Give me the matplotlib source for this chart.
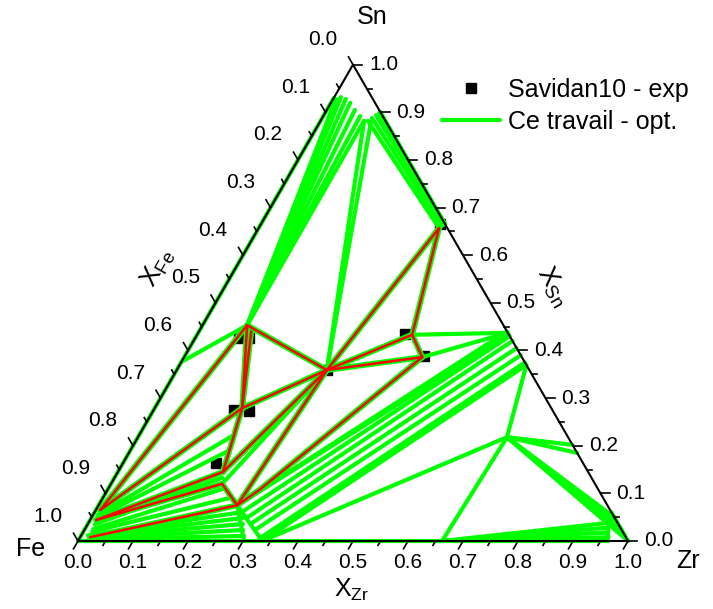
import numpy as np
import matplotlib.pyplot as plt

plt.rcParams['font.family'] = ['Liberation Sans', 'DejaVu Sans']
plt.rcParams['mathtext.fontset'] = 'custom'
plt.rcParams['mathtext.rm'] = 'Liberation Sans'

# compositions are (x_Zr, x_Sn)
P1 = (0.081, 0.453)
P1b = (0.095, 0.440)
P3 = (0.273, 0.359)
P4 = (0.328, 0.657)
P5 = (0.391, 0.433)
P6 = (0.433, 0.386)
P7 = (0.159, 0.279)
P8 = (0.191, 0.145)
P9 = (0.202, 0.120)
N1 = (0.252, 0.075)
N2 = (0.276, 0.107)
Fa = (0.008, 0.065)
Fb = (0.011, 0.044)
Fc = (0.018, 0.008)
Q1 = (0.671, 0.218)
B1 = (0.302, 0.0)
B2 = (0.335, 0.0)
B3 = (0.662, 0.0)
Z1 = (0.945, 0.038)
Z2 = (0.964, 0.0)
R1 = (0.563, 0.437)
R2 = (0.6305, 0.3695)
Lleft = (0.0, 0.376)

# liquid (Sn corner) ends of the tie-lines
liq_to_P1 = [(0.005, 0.928), (0.012, 0.932), (0.023, 0.928), (0.035, 0.920),
             (0.051, 0.905), (0.067, 0.892), (0.079, 0.882)]
liq_to_P3 = [(0.079, 0.882), (0.092, 0.882)]
liq_to_P4 = [(0.086, 0.882), (0.0905, 0.888), (0.0948, 0.894), (0.098, 0.899)]
P4_ends = [(0.328, 0.657), (0.331, 0.661), (0.333, 0.664), (0.335, 0.665)]

# Fe corner -> Laves boundary
fe_left = [(0.020, 0.004), (0.018, 0.006), (0.016, 0.008), (0.014, 0.010), (0.012, 0.012)]
fe_right = [(0.2966, 0.0105), (0.2885, 0.0231), (0.282, 0.0357), (0.2759, 0.0483), (0.2695, 0.061)]

# Laves boundary -> Zr5Sn3 side
lav_left = [(0.271, 0.065), (0.284, 0.0504), (0.2975, 0.0378), (0.310, 0.0231), (0.328, 0.0063)]
lav_edge_sn = [0.43, 0.42, 0.405, 0.39, 0.375]
n1_edge_sn = [0.44, 0.437, 0.433]

# Q1 fan towards the Zr corner
q1_zr_edge = [(0.945, 0.038), (0.95, 0.05), (0.963, 0.037), (0.976, 0.024), (0.988, 0.012), (1.0, 0.0)]
b3_ends = [(0.945, 0.038), (0.95, 0.028), (0.955, 0.018), (0.96, 0.008)]

# green bands near the Fe corner
fe_band = [((0.009, 0.055), (0.170, 0.220)), ((0.010, 0.050), (0.180, 0.190)),
           ((0.013, 0.035), (0.196, 0.133)), ((0.015, 0.025), (0.210, 0.110)),
           ((0.016, 0.020), (0.230, 0.090))]

red_lines = [(P4, P3), (P4, P5), (P5, P3), (P5, P6), (P6, P3), (P1, P3), (P1, P7),
             (P1b, P7), (P7, P3), (Fa, P1), (Fa, P7), (Fb, P8), (P7, P8), (P3, P8),
             (Fb, P9), (P9, N1), (Fc, N1), (P3, N1), (P6, N2), (N1, N2)]

green_lines = ([(P1, p) for p in liq_to_P1] + [(p, P3) for p in liq_to_P3]
               + list(zip(liq_to_P4, P4_ends))
               + [(P1, Lleft), (P3, P9), (P5, R1), (P6, R1), (N1, B1), (N1, B2)]
               + list(zip(fe_left, fe_right))
               + [(a, (1 - s, s)) for a, s in zip(lav_left, lav_edge_sn)]
               + [(N1, (1 - s, s)) for s in n1_edge_sn]
               + [(Q1, R2), (Q1, B3), (Q1, B2), (Q1, (0.798, 0.202)), (Q1, (0.815, 0.185)), (B2, R2)]
               + [(Q1, p) for p in q1_zr_edge]
               + [(B3, p) for p in b3_ends] + [(Z1, Z2)]
               + fe_band
               + [((0, 0), (0, 0.93)), ((0.099, 0.901), (0.335, 0.665)),
                  ((0.94, 0.06), (1, 0)), ((0, 0), (0.964, 0))])

# experimental points (Savidan10)
exp_zr = [0.325, 0.080, 0.098, 0.146, 0.1745, 0.273, 0.377, 0.435, 0.169]
exp_sn = [0.6655, 0.426, 0.426, 0.275, 0.273, 0.359, 0.4346, 0.3884, 0.1638]

H = np.sqrt(3) / 2


def tern(zr, sn):
    zr = np.asarray(zr, float)
    sn = np.asarray(sn, float)
    return zr + 0.5 * sn, sn * H


def px(x, y):
    # figure pixel -> data coords (Fe at 78,541 ; side = 550 px)
    return (x - 78) / 550, (541 - y) / 550


fig = plt.figure(figsize=(7.13, 6.09), dpi=100)
ax = fig.add_axes([0, 0, 1, 1])
ax.set_xlim(-78 / 550, 635 / 550)
ax.set_ylim(-68 / 550, 541 / 550)
ax.axis('off')

GREEN = '#00ff00'
RED = '#ff0000'

xs, ys = tern(exp_zr, exp_sn)
hexp, = ax.plot(xs, ys, 's', color='black', ms=7, ls='none', zorder=1, label='Savidan10 - exp')

for k, (a, b) in enumerate(green_lines):
    x, y = tern([a[0], b[0]], [a[1], b[1]])
    h, = ax.plot(x, y, color=GREEN, lw=3, solid_capstyle='round', zorder=2)
    if k == 0:
        hopt = h
hopt.set_label('Ce travail - opt.')

for a, b in red_lines:
    x, y = tern([a[0], b[0]], [a[1], b[1]])
    ax.plot(x, y, color=GREEN, lw=4.2, solid_capstyle='round', zorder=3)
for a, b in red_lines:
    x, y = tern([a[0], b[0]], [a[1], b[1]])
    ax.plot(x, y, color=RED, lw=1.8, solid_capstyle='round', zorder=4)

# triangle frame
tx, ty = tern([0, 1, 0, 0], [0, 0, 1, 0])
ax.plot(tx, ty, color='black', lw=1.5, zorder=5)

u = 1 / 550
for i in range(21):
    t = i / 20
    major = i % 2 == 0
    L = (9 if major else 5) * u
    # bottom (X_Zr)
    bx, by = t, 0
    ax.plot([bx, bx - 0.5 * L], [by, by - H * L], color='black', lw=1.2, zorder=5)
    # right (X_Sn)
    rx, ry = 1 - t / 2, t * H
    ax.plot([rx, rx + L], [ry, ry], color='black', lw=1.2, zorder=5)
    # left (X_Fe)
    lx, ly = 0.5 * (1 - t), H * (1 - t)
    ax.plot([lx, lx - 0.5 * L], [ly, ly + H * L], color='black', lw=1.2, zorder=5)
    if major:
        lab = f'{t:.1f}'
        ax.text(bx, by - 21 * u, lab, ha='center', va='center', fontsize=15)
        ax.text(rx + 16 * u, ry, lab, ha='left', va='center', fontsize=15)
        ax.text(lx - 30 * u, ly + 25 * u, lab, ha='center', va='center', fontsize=15)

ax.text(*px(372, 17), 'Sn', ha='center', va='center', fontsize=18)
ax.text(*px(31, 549), 'Fe', ha='center', va='center', fontsize=18)
ax.text(*px(688, 561), 'Zr', ha='center', va='center', fontsize=18)
ax.text(*px(352, 590), r'X$_{\mathrm{Zr}}$', ha='center', va='center', fontsize=18)
ax.text(*px(158, 268), r'X$_{\mathrm{Fe}}$', ha='center', va='center', fontsize=19, rotation=60)
ax.text(*px(553, 286), r'X$_{\mathrm{Sn}}$', ha='center', va='center', fontsize=19, rotation=-60)

ax.legend(handles=[hexp, hopt], loc='upper left', bbox_to_anchor=(442 / 713, 1 - 78 / 609),
          bbox_transform=fig.transFigure, frameon=False, fontsize=18, handlelength=2.3,
          handletextpad=0.35, labelspacing=0.3, borderpad=0, borderaxespad=0)

fig.savefig('out.png', dpi=100)
